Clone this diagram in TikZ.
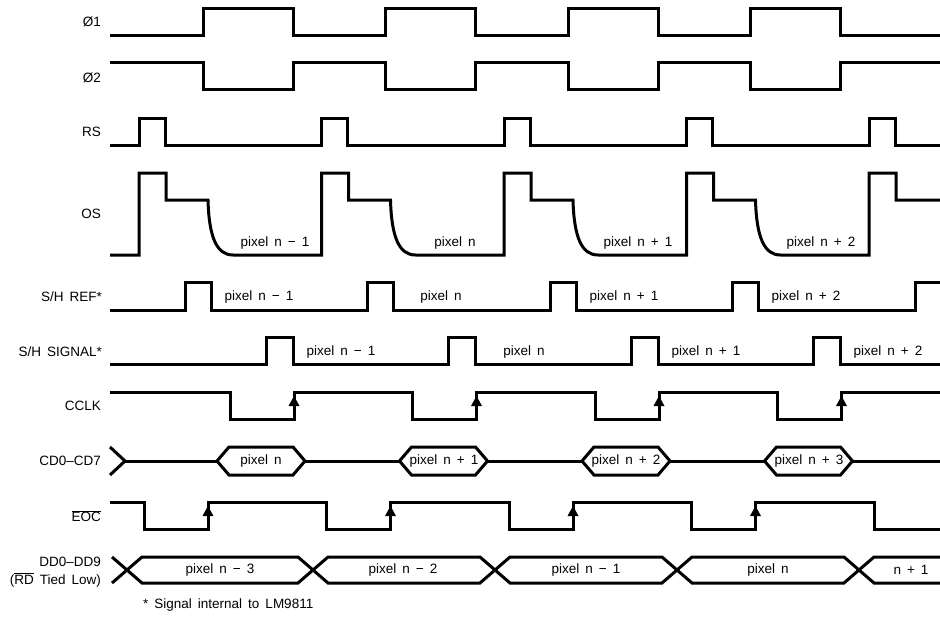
\documentclass[tikz,border=0pt]{standalone}
\usepackage{fontspec}
\setmainfont{Liberation Sans}[WordSpace=1.6]
\begin{document}
\begin{tikzpicture}[x=1pt,y=-1pt,
  wave/.style={line width=3pt, line join=miter, line cap=butt},
  txt/.style={inner sep=0pt, font=\fontsize{13.5}{15}\selectfont},
  lbl/.style={txt, anchor=east},
  tick/.style={fill=black}]
\useasboundingbox (0,0) rectangle (940,618);
\def\P{182.5}
% ---- labels
\node[lbl] (l1) at (101,22) {Ø1};
\node[lbl] (l2) at (101,78) {Ø2};
\node[lbl] (l3) at (101,132) {RS};
\node[lbl] (l4) at (101,214) {OS};
\node[lbl] (l5) at (102,297) {S/H REF*};
\node[lbl] (l6) at (102,352) {S/H SIGNAL*};
\node[lbl] (l7) at (101,406) {CCLK};
\node[lbl] (l8) at (101,461) {CD0–CD7};
\node[lbl] (l9) at (101,516) {$\overline{\mbox{EOC}}$};
\node[lbl] (l10) at (101,562) {DD0–DD9};
\node[lbl] (l11) at (101,580) {($\overline{\mbox{RD}}$ Tied Low)};
\node[txt, anchor=west] (fn) at (143,605) {* Signal internal to LM9811};
% ---- phi1
\draw[wave] (110,36) foreach \k in {0,...,3} { -- ({203+\k*\P},36) -- ({203+\k*\P},9) -- ({293+\k*\P},9) -- ({293+\k*\P},36) } -- (940,36);
% ---- phi2
\draw[wave] (110,63) foreach \k in {0,...,3} { -- ({203+\k*\P},63) -- ({203+\k*\P},90) -- ({293+\k*\P},90) -- ({293+\k*\P},63) } -- (940,63);
% ---- RS
\draw[wave] (110,145) foreach \k in {0,...,4} { -- ({139+\k*\P},145) -- ({139+\k*\P},118) -- ({165+\k*\P},118) -- ({165+\k*\P},145) } -- (940,145);
% ---- OS
\draw[wave] (110,255) foreach \k in {0,...,3} { -- ({139+\k*\P},255) -- ({139+\k*\P},173) -- ({166+\k*\P},173) -- ({166+\k*\P},200) -- ({208+\k*\P},200) .. controls ({209+\k*\P},238) and ({217+\k*\P},255) .. ({233+\k*\P},255) } -- (869,255) -- (869,173) -- (896,173) -- (896,200) -- (940,200);
\foreach \t/\x [count=\i] in {pixel n − 1/275, pixel n/455, pixel n + 1/638, pixel n + 2/821}
  \node[txt] (os\i) at (\x,243) {\t};
% ---- S/H REF
\draw[wave] (110,310) foreach \k in {0,...,3} { -- ({185+\k*\P},310) -- ({185+\k*\P},282) -- ({211+\k*\P},282) -- ({211+\k*\P},310) } -- (915,310) -- (915,282) -- (940,282);
\foreach \t/\x [count=\i] in {pixel n − 1/259, pixel n/441, pixel n + 1/624, pixel n + 2/806}
  \node[txt] (sr\i) at (\x,297) {\t};
% ---- S/H SIGNAL
\draw[wave] (110,364) foreach \k in {0,...,3} { -- ({266+\k*\P},364) -- ({266+\k*\P},337) -- ({293+\k*\P},337) -- ({293+\k*\P},364) } -- (940,364);
\foreach \t/\x [count=\i] in {pixel n − 1/341, pixel n/524, pixel n + 1/706, pixel n + 2/888}
  \node[txt] (ss\i) at (\x,352) {\t};
% ---- CCLK
\draw[wave] (110,392) foreach \k in {0,...,3} { -- ({230+\k*\P},392) -- ({230+\k*\P},419) -- ({294+\k*\P},419) -- ({294+\k*\P},392) } -- (940,392);
\fill[tick] foreach \k in {0,...,3} { ({294+\k*\P},396) -- ++(5.5,10) -- ++(-11,0) -- cycle };
% ---- CD0-CD7
\draw[wave] (110,447) -- (125,461) -- (110,475);
\draw[wave] (124,461) -- (217,461);
\foreach \k in {0,...,3} {
  \draw[wave] ({217+\k*\P},461) -- ({229+\k*\P},447) -- ({293+\k*\P},447) -- ({305+\k*\P},461) -- ({293+\k*\P},475) -- ({229+\k*\P},475) -- cycle;
}
\foreach \k in {0,...,2} { \draw[wave] ({305+\k*\P},461) -- ({217+(\k+1)*\P},461); }
\draw[wave] (852.5,461) -- (940,461);
\foreach \t/\x [count=\i] in {pixel n/261, pixel n + 1/444, pixel n + 2/626, pixel n + 3/809}
  \node[txt] (cd\i) at (\x,461) {\t};
% ---- EOC
\draw[wave] (110,502) foreach \k in {0,...,3} { -- ({144+\k*\P},502) -- ({144+\k*\P},529) -- ({208+\k*\P},529) -- ({208+\k*\P},502) } -- (874,502) -- (874,529) -- (940,529);
\fill[tick] foreach \k in {0,...,3} { ({208+\k*\P},506) -- ++(5.5,10) -- ++(-11,0) -- cycle };
% ---- DD0-DD9
\draw[wave] (112,557) -- (142,583) -- (298,583) -- (328,557) -- (480,557) -- (510,583) -- (662,583) -- (692,557) -- (844,557) -- (874,583) -- (940,583);
\draw[wave] (112,583) -- (142,557) -- (298,557) -- (328,583) -- (480,583) -- (510,557) -- (662,557) -- (692,583) -- (844,583) -- (874,557) -- (940,557);
\foreach \t/\x [count=\i] in {pixel n − 3/220, pixel n − 2/403, pixel n − 1/586, pixel n/768, n + 1/911}
  \node[txt] (dd\i) at (\x,570) {\t};
\end{tikzpicture}
\end{document}
